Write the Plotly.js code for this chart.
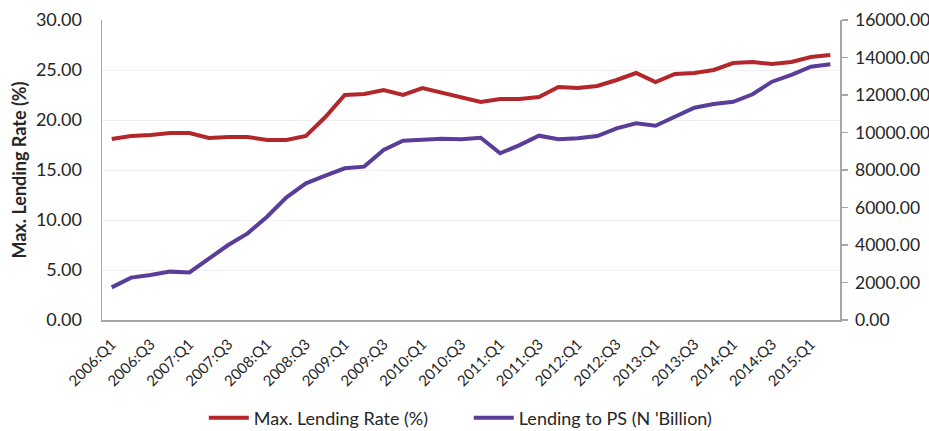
<!DOCTYPE html>
<html>
<head>
<meta charset="utf-8">
<script src="https://cdn.plot.ly/plotly-3.0.1.min.js"></script>
<style>html,body{margin:0;padding:0;background:#fff;}#chart{width:929px;height:431px;}</style>
</head>
<body>
<div id="chart"></div>
<script>
const quarters = [
  "2006:Q1","2006:Q2","2006:Q3","2006:Q4",
  "2007:Q1","2007:Q2","2007:Q3","2007:Q4",
  "2008:Q1","2008:Q2","2008:Q3","2008:Q4",
  "2009:Q1","2009:Q2","2009:Q3","2009:Q4",
  "2010:Q1","2010:Q2","2010:Q3","2010:Q4",
  "2011:Q1","2011:Q2","2011:Q3","2011:Q4",
  "2012:Q1","2012:Q2","2012:Q3","2012:Q4",
  "2013:Q1","2013:Q2","2013:Q3","2013:Q4",
  "2014:Q1","2014:Q2","2014:Q3","2014:Q4",
  "2015:Q1","2015:Q2"
];
const tickLabels = [
  "2006:Q1","2006:Q3","2007:Q1","2007:Q3","2008:Q1","2008:Q3","2009:Q1","2009:Q3",
  "2010:Q1","2010:Q3","2011:Q1","2011:Q3","2012:Q1","2012:Q3","2013:Q1","2013:Q3",
  "2014:Q1","2014:Q3","2015:Q1"
];
const maxLendingRate = [
  18.1, 18.4, 18.5, 18.7, 18.7, 18.2, 18.3, 18.3,
  18.0, 18.0, 18.4, 20.3, 22.5, 22.6, 23.0, 22.5,
  23.2, 22.7, 22.3, 21.8, 22.1, 22.1, 22.3, 23.3,
  23.2, 23.4, 24.0, 24.7, 23.8, 24.6, 24.7, 25.0,
  25.7, 25.8, 25.6, 25.8, 26.3, 26.5
];
const lendingToPS = [
  1740, 2260, 2400, 2580, 2540, 3290, 4000, 4620,
  5510, 6540, 7290, 7700, 8090, 8180, 9070, 9560,
  9600, 9670, 9640, 9720, 8890, 9330, 9830, 9640,
  9690, 9810, 10220, 10490, 10360, 10840, 11320, 11520,
  11640, 12040, 12710, 13070, 13510, 13640
];
const leftTicks = [0, 5, 10, 15, 20, 25, 30];
const rightTicks = [0, 2000, 4000, 6000, 8000, 10000, 12000, 14000, 16000];

const FONT = "Lato, 'Noto Sans', sans-serif";
const TXT = "#262626";

const traces = [
  {
    x: quarters, y: maxLendingRate, type: "scatter", mode: "lines",
    name: "Max. Lending Rate (%)",
    line: {color: "#b3272b", width: 4}, yaxis: "y"
  },
  {
    x: quarters, y: lendingToPS, type: "scatter", mode: "lines",
    name: "Lending to PS (N 'Billion)",
    line: {color: "#5a3d99", width: 4}, yaxis: "y2"
  }
];

const layout = {
  width: 929, height: 431,
  margin: {l: 102, r: 89, t: 20, b: 111},
  paper_bgcolor: "#fff", plot_bgcolor: "#fff",
  font: {family: FONT, color: TXT},
  showlegend: true,
  legend: {
    orientation: "h",
    xref: "paper", x: 0.497, xanchor: "center",
    yref: "container", y: 0.03, yanchor: "middle",
    font: {family: FONT, size: 18, color: TXT}, itemwidth: 40,
    entrywidth: 210, entrywidthmode: "pixels"
  },
  xaxis: {
    type: "category",
    automargin: false,
    range: [-0.5, quarters.length - 0.5],
    tickmode: "array",
    tickvals: tickLabels, ticktext: tickLabels,
    tickangle: -45,
    tickfont: {family: FONT, size: 15, color: TXT},
    ticklabelstandoff: 8,
    showgrid: false, zeroline: false,
    showline: true, linecolor: "#a6a6a6", linewidth: 1.5,
    ticks: ""
  },
  yaxis: {
    automargin: false,
    range: [0, 30],
    tickvals: leftTicks,
    tickformat: ".2f",
    tickfont: {family: FONT, size: 18, color: TXT},
    ticklabelstandoff: 15,
    showgrid: true, gridcolor: "#efefef", gridwidth: 1,
    zeroline: false,
    showline: true, linecolor: "#a6a6a6", linewidth: 1.5,
    ticks: "",
    title: {text: "Max. Lending Rate (%)", font: {family: FONT, size: 18, color: TXT, weight: "bold"}, standoff: 4}
  },
  yaxis2: {
    automargin: false,
    range: [0, 16000],
    overlaying: "y", side: "right",
    tickvals: rightTicks,
    tickformat: ".2f",
    tickfont: {family: FONT, size: 17.5, color: TXT},
    ticklabelstandoff: 4,
    showgrid: false, zeroline: false,
    showline: true, linecolor: "#a6a6a6", linewidth: 1.5,
    ticks: "outside", ticklen: 6, tickcolor: "#a6a6a6", tickwidth: 1.5
  }
};

Plotly.newPlot("chart", traces, layout, {displayModeBar: false, staticPlot: true});
</script>
</body>
</html>
